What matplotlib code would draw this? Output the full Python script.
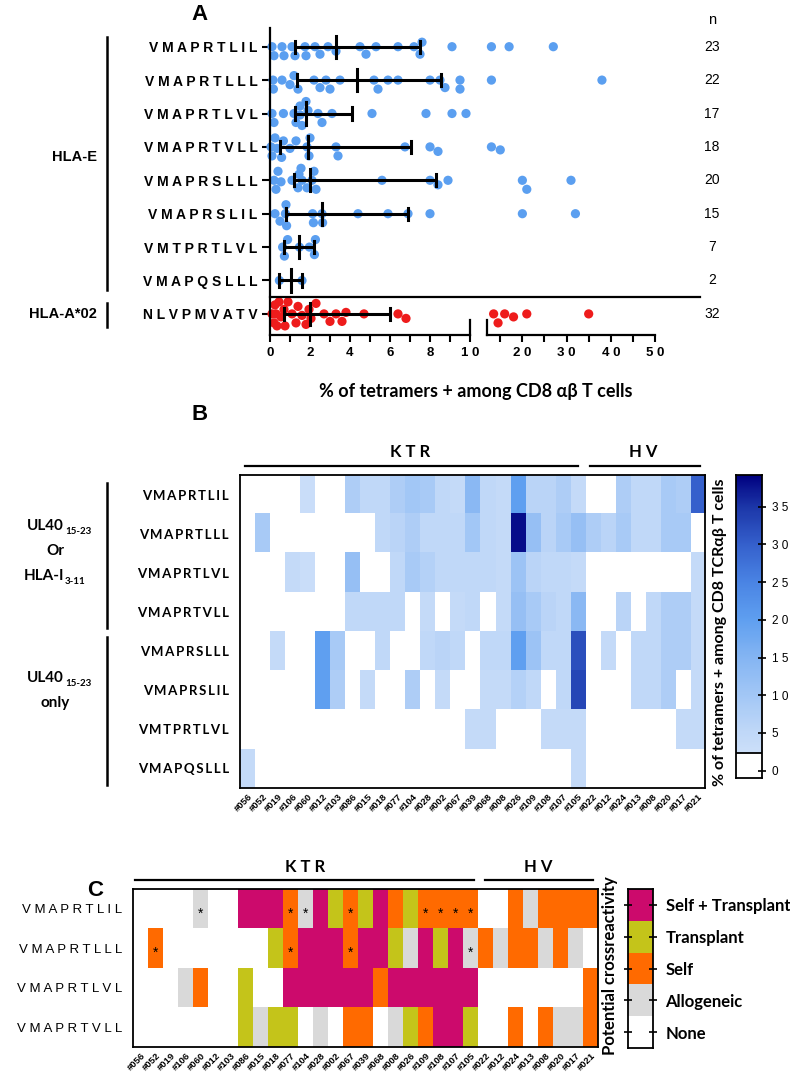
import numpy as np
import matplotlib
matplotlib.use('Agg')
import matplotlib.pyplot as plt
from matplotlib.colors import LinearSegmentedColormap, ListedColormap, Normalize
from matplotlib.lines import Line2D

# ---------------- data ----------------
peptides_a = ['VMAPRTLIL', 'VMAPRTLLL', 'VMAPRTLVL', 'VMAPRTVLL', 'VMAPRSLLL',
              'VMAPRSLIL', 'VMTPRTLVL', 'VMAPQSLLL', 'NLVPMVATV']
# % tetramer+ among CD8 ab T cells, one list per peptide (panel A)
a_vals = [
    [0.1, 0.2, 0.6, 0.7, 1.1, 1.25, 1.75, 1.8, 2.25, 2.5, 2.9, 3.3, 4.5, 4.8, 5.3, 6.4, 7.2, 7.5, 7.6, 9.1, 13, 17, 27],
    [0.15, 0.17, 0.6, 1.0, 1.2, 1.4, 2.2, 2.5, 2.8, 3.0, 3.5, 5.2, 5.4, 5.9, 6.4, 8.0, 8.5, 8.75, 9.5, 9.5, 13, 38],
    [0.1, 0.2, 0.67, 1.2, 1.3, 1.5, 1.5, 1.6, 1.8, 1.9, 2.4, 2.6, 3.1, 5.1, 7.8, 9.1, 9.8],
    [0.05, 0.1, 0.25, 0.35, 0.58, 0.67, 1.0, 1.3, 1.85, 1.95, 2.0, 3.3, 3.4, 6.75, 8.0, 8.4, 13, 15],
    [0.2, 0.3, 0.4, 0.55, 1.1, 1.4, 1.45, 1.55, 1.6, 1.85, 2.1, 2.2, 2.3, 5.6, 8.0, 8.4, 8.9, 20, 21, 31],
    [0.25, 0.5, 0.77, 0.8, 0.83, 2.13, 2.17, 2.6, 2.63, 4.4, 5.9, 6.9, 8.0, 20, 32],
    [0.63, 0.72, 0.88, 1.47, 1.97, 2.22, 2.27],
    [0.47, 1.6],
    [0.1, 0.2, 0.25, 0.3, 0.35, 0.45, 0.55, 0.7, 0.75, 0.9, 1.1, 1.3, 1.4, 1.6, 1.8, 1.95,
     2.05, 2.3, 2.7, 3.0, 3.3, 3.6, 3.8, 4.7, 6.4, 6.8, 13.5, 14.5, 16, 18, 21, 35],
]

peptides_b = peptides_a[:8]
donors = ['#056', '#052', '#019', '#106', '#060', '#012', '#103', '#086', '#015', '#018',
          '#077', '#104', '#028', '#002', '#067', '#039', '#068', '#008', '#026', '#109',
          '#108', '#107', '#105', '#022', '#012', '#024', '#013', '#008', '#020', '#017', '#021']
n_ktr = 23

# heatmap B values (0 = no response)
b_vals = [
    [0, 0, 0, 0, 3, 0, 0, 8, 5, 5, 8, 10, 9, 5, 4, 14, 5, 4, 20, 6, 6, 8, 4, 0, 0, 8, 5, 5, 9, 8, 30],
    [0, 9, 0, 0, 0, 0, 0, 0, 0, 5, 6, 8, 5, 5, 5, 10, 5, 4, 38, 12, 6, 9, 12, 8, 6, 9, 5, 5, 9, 9, 0],
    [0, 0, 0, 4, 3, 0, 0, 12, 0, 0, 5, 9, 7, 5, 5, 5, 5, 4, 11, 6, 5, 5, 4, 0, 0, 0, 0, 0, 0, 0, 4],
    [0, 0, 0, 0, 0, 0, 0, 5, 5, 5, 5, 0, 4, 0, 4, 5, 0, 4, 12, 9, 6, 5, 14, 0, 0, 6, 0, 5, 8, 8, 4],
    [0, 0, 4, 0, 0, 20, 9, 0, 0, 5, 0, 0, 5, 6, 5, 0, 5, 5, 20, 11, 5, 5, 32, 0, 4, 0, 5, 5, 8, 8, 4],
    [0, 0, 0, 0, 0, 20, 8, 0, 4, 0, 0, 8, 0, 4, 0, 0, 4, 4, 7, 5, 0, 5, 33, 0, 0, 0, 5, 5, 8, 0, 4],
    [0, 0, 0, 0, 0, 0, 0, 0, 0, 0, 0, 0, 0, 0, 0, 4, 4, 0, 0, 0, 4, 4, 4, 0, 0, 0, 0, 0, 0, 4, 4],
    [4, 0, 0, 0, 0, 0, 0, 0, 0, 0, 0, 0, 0, 0, 0, 0, 0, 0, 0, 0, 0, 0, 4, 0, 0, 0, 0, 0, 0, 0, 0],
]

# panel C: 0 None, 1 Allogeneic, 2 Self, 3 Transplant, 4 Self + Transplant
peptides_c = peptides_a[:4]
c_cats = [
    [0, 0, 0, 0, 1, 0, 0, 4, 4, 4, 2, 1, 4, 3, 2, 3, 4, 2, 3, 2, 2, 2, 2, 0, 0, 2, 1, 2, 2, 2, 2],
    [0, 2, 0, 0, 0, 0, 0, 0, 0, 3, 2, 4, 4, 4, 2, 4, 4, 3, 1, 4, 3, 4, 1, 2, 1, 2, 2, 1, 2, 1, 0],
    [0, 0, 0, 1, 2, 0, 0, 3, 0, 0, 4, 4, 4, 4, 4, 4, 2, 4, 4, 4, 4, 4, 4, 0, 0, 0, 0, 0, 0, 0, 2],
    [0, 0, 0, 0, 0, 0, 0, 3, 1, 3, 3, 0, 1, 0, 2, 2, 0, 1, 3, 2, 4, 4, 3, 0, 0, 2, 0, 2, 1, 1, 2],
]
c_stars = [[4, 10, 11, 14, 19, 20, 21, 22], [1, 10, 14, 22], [], []]
cat_names = ['None', 'Allogeneic', 'Self', 'Transplant', 'Self + Transplant']
cat_colors = ['#ffffff', '#d9d9d9', '#ff6a00', '#c4c41a', '#cc0a6c']

# ---------------- helpers ----------------
W, H = 790, 1081
fig = plt.figure(figsize=(W / 100, H / 100), dpi=100)

def box(x0, y0, x1, y1):
    return [x0 / W, 1 - y1 / H, (x1 - x0) / W, (y1 - y0) / H]

def ftext(x, y, s, **kw):
    fig.text(x / W, 1 - y / H, s, **kw)

def fline(xs, ys, lw=1.5):
    fig.add_artist(Line2D([x / W for x in xs], [1 - y / H for y in ys], color='black', lw=lw))

def spaced(s, sep=' '):
    return sep.join(list(s))

ARIAL = ['Liberation Sans', 'DejaVu Sans']
CAL = ['Lato', 'DejaVu Sans']

# ---------------- panel A ----------------
AL0, AL1, AR0, AR1 = 270, 470, 487, 655
AT, AB = 28, 335
row0, rowstep = 46.7, 33.4
ylo, yhi = (AB - row0) / rowstep, (AT - row0) / rowstep
rmin, rmax = 12, 50

axL = fig.add_axes(box(AL0, AT, AL1, AB))
axR = fig.add_axes(box(AR0, AT, AR1, AB))
for ax in (axL, axR):
    ax.set_ylim(ylo, yhi)
    ax.patch.set_alpha(0)
    for s in ('top', 'right'):
        ax.spines[s].set_visible(False)
    ax.spines['bottom'].set_linewidth(1.6)
    ax.spines['left'].set_linewidth(1.6)
axL.set_xlim(0, 10)
axR.set_xlim(rmin, rmax)
axR.spines['left'].set_visible(False)

axL.set_xticks(range(0, 11, 2))
axL.set_xticklabels([spaced(str(v)) for v in range(0, 11, 2)], fontfamily=ARIAL, fontweight='bold', fontsize=9.5)
axL.set_xticks(range(1, 10, 2), minor=True)
axR.set_xticks([20, 30, 40, 50])
axR.set_xticklabels([spaced(str(v)) for v in [20, 30, 40, 50]], fontfamily=ARIAL, fontweight='bold', fontsize=9.5)
axR.set_xticks([15, 25, 35, 45], minor=True)
for ax in (axL, axR):
    ax.tick_params(axis='x', which='both', length=5, width=1.5, direction='out', pad=4)
axL.set_yticks(range(9))
axL.set_yticklabels([spaced(p) for p in peptides_a], fontfamily=ARIAL, fontweight='bold', fontsize=10)
axL.tick_params(axis='y', length=6, width=1.5, pad=3)
axR.set_yticks([])

# axis break marks
axL.plot([10, 10], [ylo, ylo - 0.45], color='k', lw=1.6, clip_on=False)
axR.plot([rmin, rmin], [ylo, ylo - 0.45], color='k', lw=1.6, clip_on=False)

def xpx(v):
    if v <= 10:
        return AL0 + (AL1 - AL0) * v / 10
    return AR0 + (AR1 - AR0) * (v - rmin) / (rmax - rmin)

def swarm(vals, d=9.0, step=1.5, maxoff=13):
    placed, offs = [], []
    for v in vals:
        x = xpx(v)
        cands = [0.0]
        k = 1
        while k * step <= maxoff:
            cands += [k * step, -k * step]
            k += 1
        best, bestov = cands[-1], 1e9
        for o in cands:
            ov = sum(max(0, d * d - ((x - px) ** 2 + (o - po) ** 2)) for px, po in placed)
            if ov == 0:
                best = o
                break
            if ov < bestov:
                best, bestov = o, ov
        placed.append((x, best))
        offs.append(best / rowstep)
    return offs

for i, vals in enumerate(a_vals):
    vals = sorted(vals)
    col = '#ee1c1c' if i == 8 else '#5b9ff0'
    offs = swarm(vals)
    for v, o in zip(vals, offs):
        ax = axL if v <= 10 else axR
        ax.scatter([v], [i + o], s=44, color=col, edgecolors='none', zorder=2, clip_on=False)
    q1, med, q3 = np.percentile(vals, [25, 50, 75], method='weibull')
    axL.plot([q1, q3], [i, i], color='k', lw=2.2, zorder=3, solid_capstyle='butt')
    axL.plot([med, med], [i - 0.33, i + 0.33], color='k', lw=2.2, zorder=3)
    for q in (q1, q3):
        axL.plot([q, q], [i - 0.18, i + 0.18], color='k', lw=2.2, zorder=3)
    ftext(712, row0 + i * rowstep, str(len(vals)), ha='center', va='center', fontsize=10, fontfamily=ARIAL)

ftext(712, 20, 'n', ha='center', va='center', fontsize=10.5, fontfamily=ARIAL)
fline([AL0, 700], [296.7, 296.7], lw=1.6)
fline([107, 107], [37, 290], lw=1.8)
fline([107, 107], [303, 327], lw=1.8)
ftext(97, 157, 'HLA-E', ha='right', va='center', fontsize=10.5, fontweight='bold', fontfamily=ARIAL)
ftext(97, 314, 'HLA-A*02', ha='right', va='center', fontsize=10.5, fontweight='bold', fontfamily=ARIAL)
ftext(476, 392, '% of tetramers + among CD8 \u03b1\u03b2 T cells', ha='center', va='center',
      fontsize=13, fontweight='bold', fontfamily=CAL)
ftext(200, 15, 'A', ha='center', va='center', fontsize=16, fontweight='bold', fontfamily=ARIAL)

# ---------------- panel B ----------------
vtop, vbot, vsplit = 39.2, -0.97, 2.3
cmap_b = LinearSegmentedColormap.from_list('tet', [
    (0 / vtop, '#d6e6fb'), (5 / vtop, '#c0d8f8'), (10 / vtop, '#a2c7f6'), (15 / vtop, '#84b5f3'),
    (20 / vtop, '#5f9ff0'), (25 / vtop, '#4a84e4'), (30 / vtop, '#3560cc'), (35 / vtop, '#1c36a8'),
    (1.0, '#000080')])
cmap_b.set_bad('white')

axB = fig.add_axes(box(240, 475, 705, 788))
bm = np.ma.masked_equal(np.array(b_vals, dtype=float), 0)
axB.imshow(bm, cmap=cmap_b, norm=Normalize(0, vtop), aspect='auto', interpolation='nearest',
           extent=(-0.5, 30.5, 7.5, -0.5))
axB.set_yticks(range(8))
axB.set_yticklabels([spaced(p, '\u2009') for p in peptides_b], fontfamily=CAL, fontweight='bold', fontsize=9.5)
axB.set_xticks(range(31))
axB.set_xticklabels(donors, rotation=45, ha='right', rotation_mode='anchor', fontsize=6.8,
                    fontweight='bold', fontfamily=ARIAL)
axB.tick_params(length=0, pad=3)
axB.tick_params(axis='y', pad=8)
for s in axB.spines.values():
    s.set_linewidth(1.3)

ftext(410, 452, 'K T R', ha='center', va='center', fontsize=12, fontweight='bold', fontfamily=CAL)
ftext(643, 452, 'H V', ha='center', va='center', fontsize=12, fontweight='bold', fontfamily=CAL)
fline([245, 578], [466, 466], lw=1.6)
fline([590, 700], [466, 466], lw=1.6)
ftext(200, 415, 'B', ha='center', va='center', fontsize=16, fontweight='bold', fontfamily=ARIAL)

# group labels
fline([107, 107], [483, 628], lw=1.8)
fline([107, 107], [637, 785], lw=1.8)
ftext(64, 526, 'UL40', ha='right', va='center', fontsize=11, fontweight='bold', fontfamily=CAL)
ftext(65, 531, '15-23', ha='left', va='center', fontsize=7, fontweight='bold', fontfamily=CAL)
ftext(55, 551, 'Or', ha='center', va='center', fontsize=11, fontweight='bold', fontfamily=CAL)
ftext(64, 576, 'HLA-I', ha='right', va='center', fontsize=11, fontweight='bold', fontfamily=CAL)
ftext(65, 581, '3-11', ha='left', va='center', fontsize=7, fontweight='bold', fontfamily=CAL)
ftext(64, 678, 'UL40', ha='right', va='center', fontsize=11, fontweight='bold', fontfamily=CAL)
ftext(65, 683, '15-23', ha='left', va='center', fontsize=7, fontweight='bold', fontfamily=CAL)
ftext(55, 703, 'only', ha='center', va='center', fontsize=11, fontweight='bold', fontfamily=CAL)

# colour bar
cax = fig.add_axes(box(736, 475, 762, 778))
grad = np.linspace(vsplit, vtop, 256).reshape(-1, 1)
cax.imshow(grad, cmap=cmap_b, norm=Normalize(0, vtop), aspect='auto', origin='lower',
           extent=(0, 1, vsplit, vtop))
cax.set_xlim(0, 1)
cax.set_ylim(vbot, vtop)
cax.axhline(vsplit, color='k', lw=1.3)
cax.set_xticks([])
cax.yaxis.tick_right()
cax.set_yticks(range(0, 36, 5))
cax.set_yticklabels([spaced(str(v)) for v in range(0, 36, 5)], fontsize=8.5, fontfamily=ARIAL)
cax.tick_params(axis='y', direction='inout', length=6, width=1.2, pad=4)
for s in cax.spines.values():
    s.set_linewidth(1.3)
ftext(720, 632, '% of tetramers + among CD8 TCR\u03b1\u03b2 T cells', rotation=90, ha='center',
      va='center', fontsize=11.5, fontweight='bold', fontfamily=CAL)

# ---------------- panel C ----------------
cmap_c = ListedColormap(cat_colors)
axC = fig.add_axes(box(133, 889, 598, 1047))
axC.imshow(np.array(c_cats), cmap=cmap_c, vmin=-0.5, vmax=4.5, aspect='auto', interpolation='nearest',
           extent=(-0.5, 30.5, 3.5, -0.5))
for r, cols in enumerate(c_stars):
    for c in cols:
        axC.text(c, r + 0.12, '*', ha='center', va='center', fontsize=10, fontfamily=ARIAL)
axC.set_yticks(range(4))
axC.set_yticklabels([spaced(p) for p in peptides_c], fontfamily=ARIAL, fontsize=9.5)
axC.set_xticks(range(31))
axC.set_xticklabels(donors, rotation=45, ha='right', rotation_mode='anchor', fontsize=6.8,
                    fontweight='bold', fontfamily=ARIAL)
axC.tick_params(length=0, pad=3)
axC.tick_params(axis='y', pad=8)
for s in axC.spines.values():
    s.set_linewidth(1.3)

ftext(305, 867, 'K T R', ha='center', va='center', fontsize=12, fontweight='bold', fontfamily=CAL)
ftext(538, 867, 'H V', ha='center', va='center', fontsize=12, fontweight='bold', fontfamily=CAL)
fline([135, 474], [880, 880], lw=1.6)
fline([485, 593], [880, 880], lw=1.6)
ftext(95, 890, 'C', ha='center', va='center', fontsize=16, fontweight='bold', fontfamily=ARIAL)

lax = fig.add_axes(box(628, 889, 653, 1048))
order = list(range(4, -1, -1))
lax.imshow(np.array(order).reshape(-1, 1), cmap=cmap_c, vmin=-0.5, vmax=4.5, aspect='auto',
           extent=(0, 1, 4.5, -0.5))
lax.set_xticks([])
lax.yaxis.tick_right()
lax.set_yticks(range(5))
lax.set_yticklabels([cat_names[k] for k in order], fontsize=12, fontweight='bold', fontfamily=CAL)
lax.tick_params(axis='y', direction='inout', length=6, width=1.2, pad=6, left=True)
for s in lax.spines.values():
    s.set_linewidth(1.3)
ftext(610, 966, 'Potential crossreactivity', rotation=90, ha='center', va='center',
      fontsize=12, fontweight='bold', fontfamily=CAL)

fig.savefig('out.png', dpi=100)
